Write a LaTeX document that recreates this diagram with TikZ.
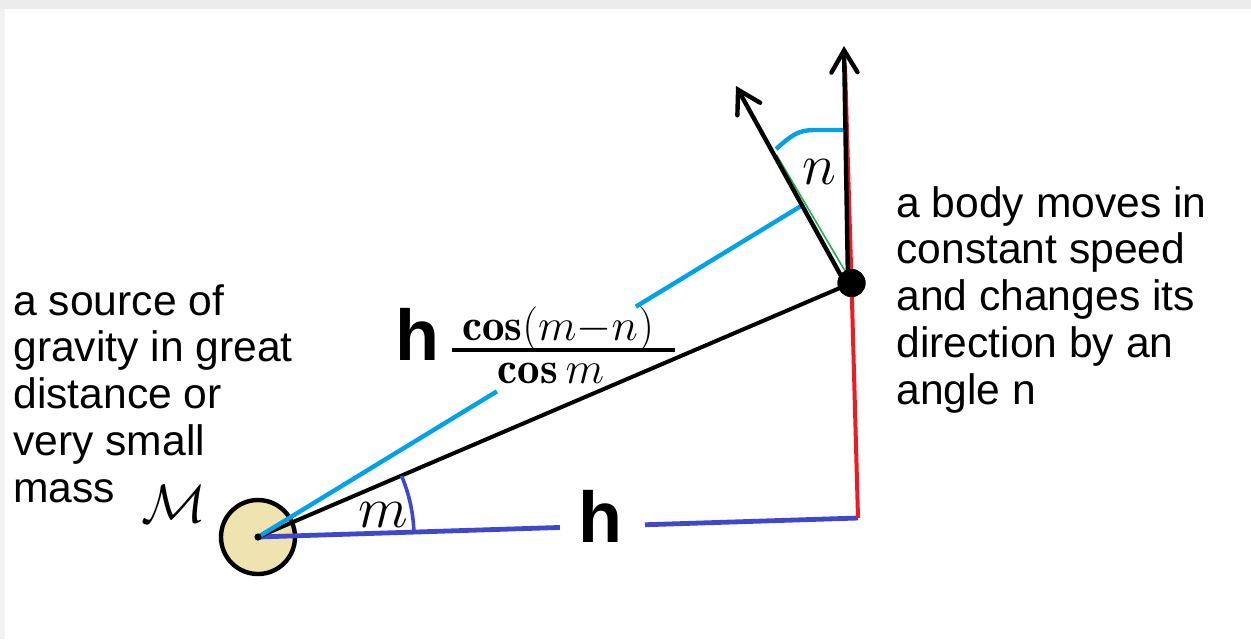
\RequirePackage{fix-cm}
\documentclass[tikz,border=0pt]{standalone}
\usepackage{fontspec}
\usetikzlibrary{arrows.meta,calc}
\newfontfamily\arialfont{Liberation Sans}
\definecolor{cyanline}{HTML}{00A2E8}
\definecolor{indigoline}{HTML}{3F48CC}
\definecolor{redline}{HTML}{ED1C24}
\definecolor{tanfill}{HTML}{EFE4B0}
\definecolor{greenline}{HTML}{22B14C}
\definecolor{frame}{HTML}{ECECEC}
\begin{document}
\begin{tikzpicture}[x=0.5pt,y=-0.5pt,
  blk/.style={line width=2pt,black},
  cyanstroke/.style={line width=2.2pt,cyanline},
  indstroke/.style={line width=2.4pt,indigoline},
  redstroke/.style={line width=2pt,redline},
  vecarrow/.style={line width=2.2pt,black,-{Straight Barb[length=11pt,width=13pt,line cap=round]}},
  desc/.style={font=\arialfont\fontsize{21.3}{23.35}\selectfont,align=left,anchor=base west,inner sep=0pt},
  bigh/.style={font=\arialfont\bfseries\fontsize{36}{40}\selectfont,anchor=base,inner sep=0pt},
  mathlbl/.style={font=\fontsize{29}{34}\selectfont,anchor=base,inner sep=0pt},
  fraclbl/.style={font=\fontsize{22.5}{27}\selectfont,anchor=base,inner sep=0pt}]
\useasboundingbox (0,0) rectangle (1251,639);
\fill[white] (0,0) rectangle (1251,639);
\fill[frame] (0,0) rectangle (1251,8.5);
\fill[frame!70] (0,8.5) rectangle (4.5,639);

% key points
\coordinate (corner) at (858,518);
\coordinate (tbase) at (845,283);
\coordinate (ttip) at (736,86);
\coordinate (vbase) at (848,283);
\coordinate (vtip) at (844,46);
\coordinate (redtop) at (845,66);
\coordinate (cyanend) at (801,206);
\coordinate (arcA) at (776,149);
\coordinate (arcB) at (843,130);

\node[circle,draw=black,line width=2.2pt,fill=tanfill,minimum size=37pt,inner sep=0pt] (mass) at (258,537) {};
\node[circle,fill=black,minimum size=14pt,inner sep=0pt] (body) at (851.5,283) {};

% gaps along the lines (for labels)
\coordinate (gapA) at ($(mass.center)!0.503!(corner)$);
\coordinate (gapB) at ($(mass.center)!0.645!(corner)$);
\coordinate (cgapA) at ($(mass.center)!0.44!(cyanend)$);
\coordinate (cgapB) at ($(mass.center)!0.696!(cyanend)$);

% blue base line
\draw[indstroke] (mass.center) -- (gapA);
\draw[indstroke] (gapB) -- (corner);

% black line mass to body
\draw[blk] (mass.center) -- (body.center);

% cyan line
\draw[cyanstroke] (mass.center) -- (cgapA);
\draw[cyanstroke] (cgapB) -- (cyanend);
% cyan angle n arc
\draw[cyanstroke] (arcA) .. controls (792,135) and (798,130) .. (815,130) -- (arcB);

% angle m arc
\draw[indigoline,line width=1.8pt] (mass.center) ++(-1.2:156) arc[start angle=-1.2,end angle=-23.1,radius=156];

% red line
\draw[redstroke] (corner) -- (body.center) -- (redtop);

% green hint along tilted arrow
\draw[greenline,line width=0.8pt] ($(tbase)+(2.4,-8)$) -- ($(ttip)!0.35!(tbase)+(2.4,0)$);

% vectors
\draw[vecarrow] (tbase) -- (ttip);
\draw[vecarrow] (vbase) -- (vtip);

% dot on top
\node[circle,fill=black,minimum size=14pt,inner sep=0pt] at (body.center) {};
\fill[black] (mass.center) circle (1.8pt);

% labels
\node[bigh] (hlow) at (600,542) {h};
\node[bigh] (hfrac) at (417,360) {h};
\node[fraclbl] (num) at (558,340) {$\mathbf{cos}(m{-}n)$};
\node[fraclbl] (den) at (551,383) {$\mathbf{cos}\,m$};
\draw[line width=2pt] (452,350) -- (675,350);
\node[mathlbl] (nlbl) at (819,184) {$n$};
\node[mathlbl] (mlbl) at (383,527) {$m$};
\node[font=\fontsize{27}{32}\selectfont,anchor=base,inner sep=0pt] (Mlbl) at (174,522) {$\mathcal{M}$};

\node[desc] (lefttext) at (13,502) {a source of\\gravity in great\\distance or\\very small\\mass};
\node[desc] (righttext) at (896,404) {a body moves in\\constant speed\\and changes its\\direction by an\\angle n};
\end{tikzpicture}
\end{document}
